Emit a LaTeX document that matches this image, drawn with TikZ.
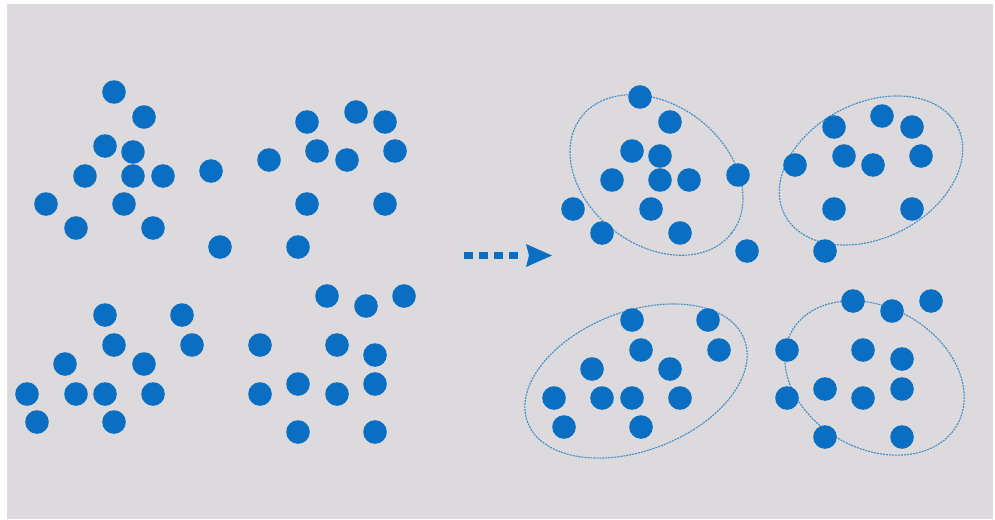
\documentclass[tikz,border=0pt]{standalone}
\definecolor{bggrey}{RGB}{220,218,220}
\definecolor{dotblue}{RGB}{10,111,194}
\definecolor{ringblue}{RGB}{60,140,200}
\tikzset{
  dot/.style={fill=dotblue},
  ring/.style={draw=ringblue, line width=1.1pt, dash pattern=on 2pt off 1pt},
}
\begin{document}
\begin{tikzpicture}[x=1pt,y=-1pt]
\fill[white] (0,0) rectangle (995,519);
\fill[bggrey] (7,4) rectangle (993,519);
\useasboundingbox (0,0) rectangle (995,519);
% cluster outlines
\draw[ring, shift={(656.5,175)}, rotate=-37.7] (0,0) ellipse [x radius=95pt, y radius=70pt];
\draw[ring, shift={(871,170.5)}, rotate=27] (0,0) ellipse [x radius=97pt, y radius=67.5pt];
\draw[ring, shift={(636,381)}, rotate=21] (0,0) ellipse [x radius=116pt, y radius=69.5pt];
\draw[ring, shift={(874.5,378)}, rotate=-29.5] (0,0) ellipse [x radius=95pt, y radius=70.5pt];
% dots
\foreach \x/\y in {114/92,144/117,105/146,133/152,85/176,133/176,163/176,211/171,46/204,124/204,76/228,153/228,220/247,269/160,307/122,356/112,385/122,317/151,347/160,395/151,307/204,385/204,298/247,
105/315,182/315,114/345,192/345,65/364,144/364,27/394,76/394,105/394,153/394,37/422,114/422,327/296,366/306,404/296,260/345,337/345,375/355,298/384,375/384,260/394,337/394,298/432,375/432,
640/97,670/122,632/151,660/156,612/180,660/180,689/180,738/175,573/209,651/209,602/233,680/233,747/251,834/127,882/116,912/127,795/165,844/156,873/165,921/156,834/209,912/209,825/251,
632/320,708/320,641/350,719/350,592/369,670/369,554/398,602/398,632/398,680/398,564/427,641/427,853/301,892/311,931/301,787/350,863/350,902/359,825/389,902/389,787/398,863/398,825/437,902/437}
  \fill[dot] (\x,\y) circle [radius=11.8pt];
% arrow
\coordinate (arrS) at (464,255.5);
\coordinate (arrE) at (520,255.5);
\coordinate (tipB) at (526,255.5);
\draw[dotblue, line width=7pt, dash pattern=on 8.5pt off 6.5pt] (arrS) -- (arrE);
\fill[dotblue] (tipB) ++(0,-11.5) -- ++(26,11.5) -- ++(-26,11.5) -- ++(3,-11.5) -- cycle;
\end{tikzpicture}
\end{document}
